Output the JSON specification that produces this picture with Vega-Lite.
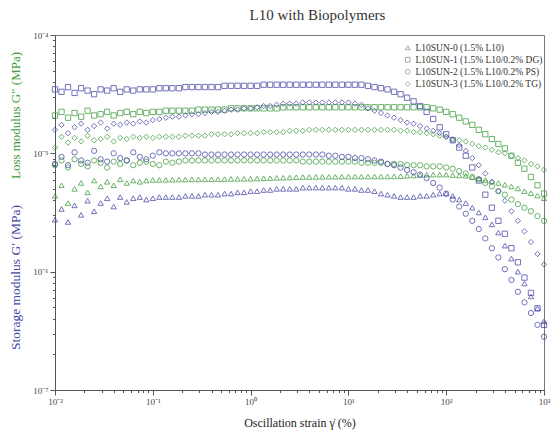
{
"$schema": "https://vega.github.io/schema/vega-lite/v6.json",
"width": 489, "height": 355,
"autosize": {"type": "none"},
"padding": {"left": 55, "top": 35, "right": 11, "bottom": 41},
"background": "white",
"title": {"text": "L10 with Biopolymers", "font": "Liberation Serif", "fontSize": 15, "fontWeight": "normal", "color": "#333333", "frame": "group", "anchor": "middle", "dx": 18, "offset": 8},
"config": {"view": {"stroke": "#777777", "strokeWidth": 1}, "font": "Liberation Serif"},
"data": {"values": [
{"s":"SUN-1","m":"storage","x":0.01,"y":3.47e-5},{"s":"SUN-1","m":"storage","x":0.01166,"y":3.31e-5},{"s":"SUN-1","m":"storage","x":0.01359,"y":3.63e-5},{"s":"SUN-1","m":"storage","x":0.01585,"y":3.24e-5},{"s":"SUN-1","m":"storage","x":0.01848,"y":3.55e-5},{"s":"SUN-1","m":"storage","x":0.02154,"y":3.39e-5},{"s":"SUN-1","m":"storage","x":0.02512,"y":3.16e-5},{"s":"SUN-1","m":"storage","x":0.02929,"y":3.47e-5},{"s":"SUN-1","m":"storage","x":0.03415,"y":3.39e-5},{"s":"SUN-1","m":"storage","x":0.03981,"y":3.55e-5},{"s":"SUN-1","m":"storage","x":0.04642,"y":3.31e-5},{"s":"SUN-1","m":"storage","x":0.05412,"y":3.47e-5},{"s":"SUN-1","m":"storage","x":0.0631,"y":3.39e-5},{"s":"SUN-1","m":"storage","x":0.07356,"y":3.47e-5},{"s":"SUN-1","m":"storage","x":0.08577,"y":3.47e-5},
{"s":"SUN-1","m":"storage","x":0.1,"y":3.47e-5},{"s":"SUN-1","m":"storage","x":0.1166,"y":3.55e-5},{"s":"SUN-1","m":"storage","x":0.1359,"y":3.55e-5},{"s":"SUN-1","m":"storage","x":0.1585,"y":3.55e-5},{"s":"SUN-1","m":"storage","x":0.1848,"y":3.55e-5},{"s":"SUN-1","m":"storage","x":0.2154,"y":3.63e-5},{"s":"SUN-1","m":"storage","x":0.2512,"y":3.63e-5},{"s":"SUN-1","m":"storage","x":0.2929,"y":3.63e-5},{"s":"SUN-1","m":"storage","x":0.3415,"y":3.63e-5},{"s":"SUN-1","m":"storage","x":0.3981,"y":3.63e-5},{"s":"SUN-1","m":"storage","x":0.4642,"y":3.63e-5},{"s":"SUN-1","m":"storage","x":0.5412,"y":3.72e-5},{"s":"SUN-1","m":"storage","x":0.631,"y":3.72e-5},{"s":"SUN-1","m":"storage","x":0.7356,"y":3.72e-5},{"s":"SUN-1","m":"storage","x":0.8577,"y":3.72e-5},
{"s":"SUN-1","m":"storage","x":1,"y":3.72e-5},{"s":"SUN-1","m":"storage","x":1.166,"y":3.72e-5},{"s":"SUN-1","m":"storage","x":1.359,"y":3.8e-5},{"s":"SUN-1","m":"storage","x":1.585,"y":3.8e-5},{"s":"SUN-1","m":"storage","x":1.848,"y":3.8e-5},{"s":"SUN-1","m":"storage","x":2.154,"y":3.8e-5},{"s":"SUN-1","m":"storage","x":2.512,"y":3.8e-5},{"s":"SUN-1","m":"storage","x":2.929,"y":3.8e-5},{"s":"SUN-1","m":"storage","x":3.415,"y":3.8e-5},{"s":"SUN-1","m":"storage","x":3.981,"y":3.8e-5},{"s":"SUN-1","m":"storage","x":4.642,"y":3.8e-5},{"s":"SUN-1","m":"storage","x":5.412,"y":3.8e-5},{"s":"SUN-1","m":"storage","x":6.31,"y":3.8e-5},{"s":"SUN-1","m":"storage","x":7.356,"y":3.8e-5},{"s":"SUN-1","m":"storage","x":8.577,"y":3.8e-5},
{"s":"SUN-1","m":"storage","x":10,"y":3.8e-5},{"s":"SUN-1","m":"storage","x":11.66,"y":3.8e-5},{"s":"SUN-1","m":"storage","x":13.59,"y":3.8e-5},{"s":"SUN-1","m":"storage","x":15.85,"y":3.72e-5},{"s":"SUN-1","m":"storage","x":18.48,"y":3.63e-5},{"s":"SUN-1","m":"storage","x":21.54,"y":3.55e-5},{"s":"SUN-1","m":"storage","x":25.12,"y":3.47e-5},{"s":"SUN-1","m":"storage","x":29.29,"y":3.31e-5},{"s":"SUN-1","m":"storage","x":34.15,"y":3.16e-5},{"s":"SUN-1","m":"storage","x":39.81,"y":2.95e-5},{"s":"SUN-1","m":"storage","x":46.42,"y":2.75e-5},{"s":"SUN-1","m":"storage","x":54.12,"y":2.51e-5},{"s":"SUN-1","m":"storage","x":63.1,"y":2.24e-5},{"s":"SUN-1","m":"storage","x":73.56,"y":1.95e-5},{"s":"SUN-1","m":"storage","x":85.77,"y":1.66e-5},
{"s":"SUN-1","m":"storage","x":100,"y":1.45e-5},{"s":"SUN-1","m":"storage","x":116.6,"y":1.29e-5},{"s":"SUN-1","m":"storage","x":135.9,"y":1.12e-5},{"s":"SUN-1","m":"storage","x":158.5,"y":9.55e-6},{"s":"SUN-1","m":"storage","x":184.8,"y":7.59e-6},{"s":"SUN-1","m":"storage","x":215.4,"y":5.89e-6},{"s":"SUN-1","m":"storage","x":251.2,"y":4.47e-6},{"s":"SUN-1","m":"storage","x":292.9,"y":3.47e-6},{"s":"SUN-1","m":"storage","x":341.5,"y":2.69e-6},{"s":"SUN-1","m":"storage","x":398.1,"y":2.09e-6},{"s":"SUN-1","m":"storage","x":464.2,"y":1.58e-6},{"s":"SUN-1","m":"storage","x":541.2,"y":1.2e-6},{"s":"SUN-1","m":"storage","x":631,"y":8.91e-7},{"s":"SUN-1","m":"storage","x":735.6,"y":6.61e-7},{"s":"SUN-1","m":"storage","x":857.7,"y":4.9e-7},{"s":"SUN-1","m":"storage","x":1000,"y":3.55e-7},

{"s":"SUN-1","m":"loss","x":0.01,"y":2.09e-5},{"s":"SUN-1","m":"loss","x":0.01166,"y":2.24e-5},{"s":"SUN-1","m":"loss","x":0.01359,"y":2e-5},{"s":"SUN-1","m":"loss","x":0.01585,"y":2.19e-5},{"s":"SUN-1","m":"loss","x":0.01848,"y":2.04e-5},{"s":"SUN-1","m":"loss","x":0.02154,"y":2.29e-5},{"s":"SUN-1","m":"loss","x":0.02512,"y":2.09e-5},{"s":"SUN-1","m":"loss","x":0.02929,"y":2.14e-5},{"s":"SUN-1","m":"loss","x":0.03415,"y":2.24e-5},{"s":"SUN-1","m":"loss","x":0.03981,"y":2.09e-5},{"s":"SUN-1","m":"loss","x":0.04642,"y":2.19e-5},{"s":"SUN-1","m":"loss","x":0.05412,"y":2.24e-5},{"s":"SUN-1","m":"loss","x":0.0631,"y":2.14e-5},{"s":"SUN-1","m":"loss","x":0.07356,"y":2.24e-5},{"s":"SUN-1","m":"loss","x":0.08577,"y":2.19e-5},
{"s":"SUN-1","m":"loss","x":0.1,"y":2.24e-5},{"s":"SUN-1","m":"loss","x":0.1166,"y":2.24e-5},{"s":"SUN-1","m":"loss","x":0.1359,"y":2.29e-5},{"s":"SUN-1","m":"loss","x":0.1585,"y":2.29e-5},{"s":"SUN-1","m":"loss","x":0.1848,"y":2.29e-5},{"s":"SUN-1","m":"loss","x":0.2154,"y":2.29e-5},{"s":"SUN-1","m":"loss","x":0.2512,"y":2.29e-5},{"s":"SUN-1","m":"loss","x":0.2929,"y":2.34e-5},{"s":"SUN-1","m":"loss","x":0.3415,"y":2.34e-5},{"s":"SUN-1","m":"loss","x":0.3981,"y":2.34e-5},{"s":"SUN-1","m":"loss","x":0.4642,"y":2.34e-5},{"s":"SUN-1","m":"loss","x":0.5412,"y":2.34e-5},{"s":"SUN-1","m":"loss","x":0.631,"y":2.4e-5},{"s":"SUN-1","m":"loss","x":0.7356,"y":2.4e-5},{"s":"SUN-1","m":"loss","x":0.8577,"y":2.4e-5},
{"s":"SUN-1","m":"loss","x":1,"y":2.4e-5},{"s":"SUN-1","m":"loss","x":1.166,"y":2.4e-5},{"s":"SUN-1","m":"loss","x":1.359,"y":2.4e-5},{"s":"SUN-1","m":"loss","x":1.585,"y":2.4e-5},{"s":"SUN-1","m":"loss","x":1.848,"y":2.4e-5},{"s":"SUN-1","m":"loss","x":2.154,"y":2.45e-5},{"s":"SUN-1","m":"loss","x":2.512,"y":2.45e-5},{"s":"SUN-1","m":"loss","x":2.929,"y":2.45e-5},{"s":"SUN-1","m":"loss","x":3.415,"y":2.45e-5},{"s":"SUN-1","m":"loss","x":3.981,"y":2.45e-5},{"s":"SUN-1","m":"loss","x":4.642,"y":2.45e-5},{"s":"SUN-1","m":"loss","x":5.412,"y":2.45e-5},{"s":"SUN-1","m":"loss","x":6.31,"y":2.45e-5},{"s":"SUN-1","m":"loss","x":7.356,"y":2.45e-5},{"s":"SUN-1","m":"loss","x":8.577,"y":2.45e-5},
{"s":"SUN-1","m":"loss","x":10,"y":2.45e-5},{"s":"SUN-1","m":"loss","x":11.66,"y":2.45e-5},{"s":"SUN-1","m":"loss","x":13.59,"y":2.45e-5},{"s":"SUN-1","m":"loss","x":15.85,"y":2.45e-5},{"s":"SUN-1","m":"loss","x":18.48,"y":2.45e-5},{"s":"SUN-1","m":"loss","x":21.54,"y":2.45e-5},{"s":"SUN-1","m":"loss","x":25.12,"y":2.45e-5},{"s":"SUN-1","m":"loss","x":29.29,"y":2.45e-5},{"s":"SUN-1","m":"loss","x":34.15,"y":2.45e-5},{"s":"SUN-1","m":"loss","x":39.81,"y":2.45e-5},{"s":"SUN-1","m":"loss","x":46.42,"y":2.45e-5},{"s":"SUN-1","m":"loss","x":54.12,"y":2.45e-5},{"s":"SUN-1","m":"loss","x":63.1,"y":2.45e-5},{"s":"SUN-1","m":"loss","x":73.56,"y":2.4e-5},{"s":"SUN-1","m":"loss","x":85.77,"y":2.34e-5},
{"s":"SUN-1","m":"loss","x":100,"y":2.24e-5},{"s":"SUN-1","m":"loss","x":116.6,"y":2.14e-5},{"s":"SUN-1","m":"loss","x":135.9,"y":2e-5},{"s":"SUN-1","m":"loss","x":158.5,"y":1.86e-5},{"s":"SUN-1","m":"loss","x":184.8,"y":1.74e-5},{"s":"SUN-1","m":"loss","x":215.4,"y":1.58e-5},{"s":"SUN-1","m":"loss","x":251.2,"y":1.45e-5},{"s":"SUN-1","m":"loss","x":292.9,"y":1.32e-5},{"s":"SUN-1","m":"loss","x":341.5,"y":1.2e-5},{"s":"SUN-1","m":"loss","x":398.1,"y":1.1e-5},{"s":"SUN-1","m":"loss","x":464.2,"y":9.55e-6},{"s":"SUN-1","m":"loss","x":541.2,"y":8.32e-6},{"s":"SUN-1","m":"loss","x":631,"y":7.41e-6},{"s":"SUN-1","m":"loss","x":735.6,"y":6.31e-6},{"s":"SUN-1","m":"loss","x":857.7,"y":5.37e-6},{"s":"SUN-1","m":"loss","x":1000,"y":4.57e-6},

{"s":"SUN-2","m":"storage","x":0.01,"y":8.13e-6},{"s":"SUN-2","m":"storage","x":0.01166,"y":9.33e-6},{"s":"SUN-2","m":"storage","x":0.01359,"y":7.94e-6},{"s":"SUN-2","m":"storage","x":0.01585,"y":1.02e-5},{"s":"SUN-2","m":"storage","x":0.01848,"y":8.71e-6},{"s":"SUN-2","m":"storage","x":0.02154,"y":8.32e-6},{"s":"SUN-2","m":"storage","x":0.02512,"y":1.05e-5},{"s":"SUN-2","m":"storage","x":0.02929,"y":8.91e-6},{"s":"SUN-2","m":"storage","x":0.03415,"y":8.51e-6},{"s":"SUN-2","m":"storage","x":0.03981,"y":1e-5},{"s":"SUN-2","m":"storage","x":0.04642,"y":9.12e-6},{"s":"SUN-2","m":"storage","x":0.05412,"y":8.71e-6},{"s":"SUN-2","m":"storage","x":0.0631,"y":1.02e-5},{"s":"SUN-2","m":"storage","x":0.07356,"y":9.33e-6},{"s":"SUN-2","m":"storage","x":0.08577,"y":8.91e-6},
{"s":"SUN-2","m":"storage","x":0.1,"y":9.55e-6},{"s":"SUN-2","m":"storage","x":0.1166,"y":1.02e-5},{"s":"SUN-2","m":"storage","x":0.1359,"y":1e-5},{"s":"SUN-2","m":"storage","x":0.1585,"y":1e-5},{"s":"SUN-2","m":"storage","x":0.1848,"y":1e-5},{"s":"SUN-2","m":"storage","x":0.2154,"y":1e-5},{"s":"SUN-2","m":"storage","x":0.2512,"y":1e-5},{"s":"SUN-2","m":"storage","x":0.2929,"y":1e-5},{"s":"SUN-2","m":"storage","x":0.3415,"y":9.77e-6},{"s":"SUN-2","m":"storage","x":0.3981,"y":9.77e-6},{"s":"SUN-2","m":"storage","x":0.4642,"y":9.77e-6},{"s":"SUN-2","m":"storage","x":0.5412,"y":9.77e-6},{"s":"SUN-2","m":"storage","x":0.631,"y":9.77e-6},{"s":"SUN-2","m":"storage","x":0.7356,"y":9.77e-6},{"s":"SUN-2","m":"storage","x":0.8577,"y":9.77e-6},
{"s":"SUN-2","m":"storage","x":1,"y":9.77e-6},{"s":"SUN-2","m":"storage","x":1.166,"y":9.77e-6},{"s":"SUN-2","m":"storage","x":1.359,"y":9.77e-6},{"s":"SUN-2","m":"storage","x":1.585,"y":9.77e-6},{"s":"SUN-2","m":"storage","x":1.848,"y":9.77e-6},{"s":"SUN-2","m":"storage","x":2.154,"y":9.77e-6},{"s":"SUN-2","m":"storage","x":2.512,"y":9.77e-6},{"s":"SUN-2","m":"storage","x":2.929,"y":9.77e-6},{"s":"SUN-2","m":"storage","x":3.415,"y":9.77e-6},{"s":"SUN-2","m":"storage","x":3.981,"y":9.77e-6},{"s":"SUN-2","m":"storage","x":4.642,"y":9.77e-6},{"s":"SUN-2","m":"storage","x":5.412,"y":9.77e-6},{"s":"SUN-2","m":"storage","x":6.31,"y":9.55e-6},{"s":"SUN-2","m":"storage","x":7.356,"y":9.55e-6},{"s":"SUN-2","m":"storage","x":8.577,"y":9.33e-6},
{"s":"SUN-2","m":"storage","x":10,"y":9.33e-6},{"s":"SUN-2","m":"storage","x":11.66,"y":9.12e-6},{"s":"SUN-2","m":"storage","x":13.59,"y":9.12e-6},{"s":"SUN-2","m":"storage","x":15.85,"y":8.91e-6},{"s":"SUN-2","m":"storage","x":18.48,"y":8.71e-6},{"s":"SUN-2","m":"storage","x":21.54,"y":8.51e-6},{"s":"SUN-2","m":"storage","x":25.12,"y":8.13e-6},{"s":"SUN-2","m":"storage","x":29.29,"y":7.94e-6},{"s":"SUN-2","m":"storage","x":34.15,"y":7.59e-6},{"s":"SUN-2","m":"storage","x":39.81,"y":7.24e-6},{"s":"SUN-2","m":"storage","x":46.42,"y":6.92e-6},{"s":"SUN-2","m":"storage","x":54.12,"y":6.61e-6},{"s":"SUN-2","m":"storage","x":63.1,"y":6.17e-6},{"s":"SUN-2","m":"storage","x":73.56,"y":5.62e-6},{"s":"SUN-2","m":"storage","x":85.77,"y":5.13e-6},
{"s":"SUN-2","m":"storage","x":100,"y":4.57e-6},{"s":"SUN-2","m":"storage","x":116.6,"y":4.07e-6},{"s":"SUN-2","m":"storage","x":135.9,"y":3.55e-6},{"s":"SUN-2","m":"storage","x":158.5,"y":3.09e-6},{"s":"SUN-2","m":"storage","x":184.8,"y":2.69e-6},{"s":"SUN-2","m":"storage","x":215.4,"y":2.29e-6},{"s":"SUN-2","m":"storage","x":251.2,"y":1.91e-6},{"s":"SUN-2","m":"storage","x":292.9,"y":1.58e-6},{"s":"SUN-2","m":"storage","x":341.5,"y":1.32e-6},{"s":"SUN-2","m":"storage","x":398.1,"y":1.05e-6},{"s":"SUN-2","m":"storage","x":464.2,"y":8.51e-7},{"s":"SUN-2","m":"storage","x":541.2,"y":6.76e-7},{"s":"SUN-2","m":"storage","x":631,"y":5.5e-7},{"s":"SUN-2","m":"storage","x":735.6,"y":4.47e-7},{"s":"SUN-2","m":"storage","x":857.7,"y":3.55e-7},{"s":"SUN-2","m":"storage","x":1000,"y":2.82e-7},

{"s":"SUN-2","m":"loss","x":0.01,"y":7.94e-6},{"s":"SUN-2","m":"loss","x":0.01166,"y":8.71e-6},{"s":"SUN-2","m":"loss","x":0.01359,"y":7.59e-6},{"s":"SUN-2","m":"loss","x":0.01585,"y":8.91e-6},{"s":"SUN-2","m":"loss","x":0.01848,"y":8.13e-6},{"s":"SUN-2","m":"loss","x":0.02154,"y":7.76e-6},{"s":"SUN-2","m":"loss","x":0.02512,"y":8.71e-6},{"s":"SUN-2","m":"loss","x":0.02929,"y":8.32e-6},{"s":"SUN-2","m":"loss","x":0.03415,"y":7.59e-6},{"s":"SUN-2","m":"loss","x":0.03981,"y":8.51e-6},{"s":"SUN-2","m":"loss","x":0.04642,"y":8.13e-6},{"s":"SUN-2","m":"loss","x":0.05412,"y":8.71e-6},{"s":"SUN-2","m":"loss","x":0.0631,"y":7.94e-6},{"s":"SUN-2","m":"loss","x":0.07356,"y":8.32e-6},{"s":"SUN-2","m":"loss","x":0.08577,"y":8.51e-6},
{"s":"SUN-2","m":"loss","x":0.1,"y":8.13e-6},{"s":"SUN-2","m":"loss","x":0.1166,"y":7.94e-6},{"s":"SUN-2","m":"loss","x":0.1359,"y":8.51e-6},{"s":"SUN-2","m":"loss","x":0.1585,"y":8.32e-6},{"s":"SUN-2","m":"loss","x":0.1848,"y":8.51e-6},{"s":"SUN-2","m":"loss","x":0.2154,"y":8.71e-6},{"s":"SUN-2","m":"loss","x":0.2512,"y":8.71e-6},{"s":"SUN-2","m":"loss","x":0.2929,"y":8.71e-6},{"s":"SUN-2","m":"loss","x":0.3415,"y":8.71e-6},{"s":"SUN-2","m":"loss","x":0.3981,"y":8.71e-6},{"s":"SUN-2","m":"loss","x":0.4642,"y":8.71e-6},{"s":"SUN-2","m":"loss","x":0.5412,"y":8.71e-6},{"s":"SUN-2","m":"loss","x":0.631,"y":8.71e-6},{"s":"SUN-2","m":"loss","x":0.7356,"y":8.71e-6},{"s":"SUN-2","m":"loss","x":0.8577,"y":8.71e-6},
{"s":"SUN-2","m":"loss","x":1,"y":8.71e-6},{"s":"SUN-2","m":"loss","x":1.166,"y":8.71e-6},{"s":"SUN-2","m":"loss","x":1.359,"y":8.71e-6},{"s":"SUN-2","m":"loss","x":1.585,"y":8.71e-6},{"s":"SUN-2","m":"loss","x":1.848,"y":8.71e-6},{"s":"SUN-2","m":"loss","x":2.154,"y":8.71e-6},{"s":"SUN-2","m":"loss","x":2.512,"y":8.71e-6},{"s":"SUN-2","m":"loss","x":2.929,"y":8.71e-6},{"s":"SUN-2","m":"loss","x":3.415,"y":8.51e-6},{"s":"SUN-2","m":"loss","x":3.981,"y":8.51e-6},{"s":"SUN-2","m":"loss","x":4.642,"y":8.51e-6},{"s":"SUN-2","m":"loss","x":5.412,"y":8.51e-6},{"s":"SUN-2","m":"loss","x":6.31,"y":8.51e-6},{"s":"SUN-2","m":"loss","x":7.356,"y":8.51e-6},{"s":"SUN-2","m":"loss","x":8.577,"y":8.51e-6},
{"s":"SUN-2","m":"loss","x":10,"y":8.51e-6},{"s":"SUN-2","m":"loss","x":11.66,"y":8.51e-6},{"s":"SUN-2","m":"loss","x":13.59,"y":8.32e-6},{"s":"SUN-2","m":"loss","x":15.85,"y":8.32e-6},{"s":"SUN-2","m":"loss","x":18.48,"y":8.32e-6},{"s":"SUN-2","m":"loss","x":21.54,"y":8.32e-6},{"s":"SUN-2","m":"loss","x":25.12,"y":8.13e-6},{"s":"SUN-2","m":"loss","x":29.29,"y":8.13e-6},{"s":"SUN-2","m":"loss","x":34.15,"y":8.13e-6},{"s":"SUN-2","m":"loss","x":39.81,"y":7.94e-6},{"s":"SUN-2","m":"loss","x":46.42,"y":7.94e-6},{"s":"SUN-2","m":"loss","x":54.12,"y":7.94e-6},{"s":"SUN-2","m":"loss","x":63.1,"y":7.76e-6},{"s":"SUN-2","m":"loss","x":73.56,"y":7.76e-6},{"s":"SUN-2","m":"loss","x":85.77,"y":7.76e-6},
{"s":"SUN-2","m":"loss","x":100,"y":7.59e-6},{"s":"SUN-2","m":"loss","x":116.6,"y":7.41e-6},{"s":"SUN-2","m":"loss","x":135.9,"y":7.08e-6},{"s":"SUN-2","m":"loss","x":158.5,"y":6.76e-6},{"s":"SUN-2","m":"loss","x":184.8,"y":6.31e-6},{"s":"SUN-2","m":"loss","x":215.4,"y":6.03e-6},{"s":"SUN-2","m":"loss","x":251.2,"y":5.62e-6},{"s":"SUN-2","m":"loss","x":292.9,"y":5.25e-6},{"s":"SUN-2","m":"loss","x":341.5,"y":4.79e-6},{"s":"SUN-2","m":"loss","x":398.1,"y":4.47e-6},{"s":"SUN-2","m":"loss","x":464.2,"y":4.07e-6},{"s":"SUN-2","m":"loss","x":541.2,"y":3.72e-6},{"s":"SUN-2","m":"loss","x":631,"y":3.47e-6},{"s":"SUN-2","m":"loss","x":735.6,"y":3.24e-6},{"s":"SUN-2","m":"loss","x":857.7,"y":2.95e-6},{"s":"SUN-2","m":"loss","x":1000,"y":2.69e-6},

{"s":"SUN-3","m":"storage","x":0.01,"y":1.58e-5},{"s":"SUN-3","m":"storage","x":0.01166,"y":1.74e-5},{"s":"SUN-3","m":"storage","x":0.01359,"y":1.48e-5},{"s":"SUN-3","m":"storage","x":0.01585,"y":1.66e-5},{"s":"SUN-3","m":"storage","x":0.01848,"y":1.78e-5},{"s":"SUN-3","m":"storage","x":0.02154,"y":1.58e-5},{"s":"SUN-3","m":"storage","x":0.02512,"y":1.7e-5},{"s":"SUN-3","m":"storage","x":0.02929,"y":1.82e-5},{"s":"SUN-3","m":"storage","x":0.03415,"y":1.62e-5},{"s":"SUN-3","m":"storage","x":0.03981,"y":1.78e-5},{"s":"SUN-3","m":"storage","x":0.04642,"y":1.74e-5},{"s":"SUN-3","m":"storage","x":0.05412,"y":1.82e-5},{"s":"SUN-3","m":"storage","x":0.0631,"y":1.78e-5},{"s":"SUN-3","m":"storage","x":0.07356,"y":1.86e-5},{"s":"SUN-3","m":"storage","x":0.08577,"y":1.82e-5},
{"s":"SUN-3","m":"storage","x":0.1,"y":1.91e-5},{"s":"SUN-3","m":"storage","x":0.1166,"y":1.95e-5},{"s":"SUN-3","m":"storage","x":0.1359,"y":2e-5},{"s":"SUN-3","m":"storage","x":0.1585,"y":2.04e-5},{"s":"SUN-3","m":"storage","x":0.1848,"y":2.04e-5},{"s":"SUN-3","m":"storage","x":0.2154,"y":2.09e-5},{"s":"SUN-3","m":"storage","x":0.2512,"y":2.14e-5},{"s":"SUN-3","m":"storage","x":0.2929,"y":2.14e-5},{"s":"SUN-3","m":"storage","x":0.3415,"y":2.19e-5},{"s":"SUN-3","m":"storage","x":0.3981,"y":2.24e-5},{"s":"SUN-3","m":"storage","x":0.4642,"y":2.24e-5},{"s":"SUN-3","m":"storage","x":0.5412,"y":2.29e-5},{"s":"SUN-3","m":"storage","x":0.631,"y":2.34e-5},{"s":"SUN-3","m":"storage","x":0.7356,"y":2.34e-5},{"s":"SUN-3","m":"storage","x":0.8577,"y":2.4e-5},
{"s":"SUN-3","m":"storage","x":1,"y":2.4e-5},{"s":"SUN-3","m":"storage","x":1.166,"y":2.45e-5},{"s":"SUN-3","m":"storage","x":1.359,"y":2.51e-5},{"s":"SUN-3","m":"storage","x":1.585,"y":2.51e-5},{"s":"SUN-3","m":"storage","x":1.848,"y":2.57e-5},{"s":"SUN-3","m":"storage","x":2.154,"y":2.63e-5},{"s":"SUN-3","m":"storage","x":2.512,"y":2.63e-5},{"s":"SUN-3","m":"storage","x":2.929,"y":2.63e-5},{"s":"SUN-3","m":"storage","x":3.415,"y":2.69e-5},{"s":"SUN-3","m":"storage","x":3.981,"y":2.69e-5},{"s":"SUN-3","m":"storage","x":4.642,"y":2.69e-5},{"s":"SUN-3","m":"storage","x":5.412,"y":2.69e-5},{"s":"SUN-3","m":"storage","x":6.31,"y":2.69e-5},{"s":"SUN-3","m":"storage","x":7.356,"y":2.69e-5},{"s":"SUN-3","m":"storage","x":8.577,"y":2.69e-5},
{"s":"SUN-3","m":"storage","x":10,"y":2.69e-5},{"s":"SUN-3","m":"storage","x":11.66,"y":2.63e-5},{"s":"SUN-3","m":"storage","x":13.59,"y":2.57e-5},{"s":"SUN-3","m":"storage","x":15.85,"y":2.4e-5},{"s":"SUN-3","m":"storage","x":18.48,"y":2.29e-5},{"s":"SUN-3","m":"storage","x":21.54,"y":2.19e-5},{"s":"SUN-3","m":"storage","x":25.12,"y":2.09e-5},{"s":"SUN-3","m":"storage","x":29.29,"y":2e-5},{"s":"SUN-3","m":"storage","x":34.15,"y":1.91e-5},{"s":"SUN-3","m":"storage","x":39.81,"y":1.82e-5},{"s":"SUN-3","m":"storage","x":46.42,"y":1.78e-5},{"s":"SUN-3","m":"storage","x":54.12,"y":1.7e-5},{"s":"SUN-3","m":"storage","x":63.1,"y":1.62e-5},{"s":"SUN-3","m":"storage","x":73.56,"y":1.55e-5},{"s":"SUN-3","m":"storage","x":85.77,"y":1.48e-5},
{"s":"SUN-3","m":"storage","x":100,"y":1.38e-5},{"s":"SUN-3","m":"storage","x":116.6,"y":1.29e-5},{"s":"SUN-3","m":"storage","x":135.9,"y":1.17e-5},{"s":"SUN-3","m":"storage","x":158.5,"y":1.05e-5},{"s":"SUN-3","m":"storage","x":184.8,"y":9.12e-6},{"s":"SUN-3","m":"storage","x":215.4,"y":7.94e-6},{"s":"SUN-3","m":"storage","x":251.2,"y":6.76e-6},{"s":"SUN-3","m":"storage","x":292.9,"y":5.75e-6},{"s":"SUN-3","m":"storage","x":341.5,"y":4.79e-6},{"s":"SUN-3","m":"storage","x":398.1,"y":3.98e-6},{"s":"SUN-3","m":"storage","x":464.2,"y":3.24e-6},{"s":"SUN-3","m":"storage","x":541.2,"y":2.69e-6},{"s":"SUN-3","m":"storage","x":631,"y":2.19e-6},{"s":"SUN-3","m":"storage","x":735.6,"y":1.78e-6},{"s":"SUN-3","m":"storage","x":857.7,"y":1.41e-6},{"s":"SUN-3","m":"storage","x":1000,"y":1.15e-6},

{"s":"SUN-3","m":"loss","x":0.01,"y":1.12e-5},{"s":"SUN-3","m":"loss","x":0.01166,"y":1.38e-5},{"s":"SUN-3","m":"loss","x":0.01359,"y":1.23e-5},{"s":"SUN-3","m":"loss","x":0.01585,"y":1.35e-5},{"s":"SUN-3","m":"loss","x":0.01848,"y":1.26e-5},{"s":"SUN-3","m":"loss","x":0.02154,"y":1.41e-5},{"s":"SUN-3","m":"loss","x":0.02512,"y":1.29e-5},{"s":"SUN-3","m":"loss","x":0.02929,"y":1.32e-5},{"s":"SUN-3","m":"loss","x":0.03415,"y":1.38e-5},{"s":"SUN-3","m":"loss","x":0.03981,"y":1.26e-5},{"s":"SUN-3","m":"loss","x":0.04642,"y":1.35e-5},{"s":"SUN-3","m":"loss","x":0.05412,"y":1.32e-5},{"s":"SUN-3","m":"loss","x":0.0631,"y":1.38e-5},{"s":"SUN-3","m":"loss","x":0.07356,"y":1.35e-5},{"s":"SUN-3","m":"loss","x":0.08577,"y":1.38e-5},
{"s":"SUN-3","m":"loss","x":0.1,"y":1.35e-5},{"s":"SUN-3","m":"loss","x":0.1166,"y":1.38e-5},{"s":"SUN-3","m":"loss","x":0.1359,"y":1.38e-5},{"s":"SUN-3","m":"loss","x":0.1585,"y":1.38e-5},{"s":"SUN-3","m":"loss","x":0.1848,"y":1.38e-5},{"s":"SUN-3","m":"loss","x":0.2154,"y":1.41e-5},{"s":"SUN-3","m":"loss","x":0.2512,"y":1.41e-5},{"s":"SUN-3","m":"loss","x":0.2929,"y":1.41e-5},{"s":"SUN-3","m":"loss","x":0.3415,"y":1.41e-5},{"s":"SUN-3","m":"loss","x":0.3981,"y":1.45e-5},{"s":"SUN-3","m":"loss","x":0.4642,"y":1.45e-5},{"s":"SUN-3","m":"loss","x":0.5412,"y":1.45e-5},{"s":"SUN-3","m":"loss","x":0.631,"y":1.45e-5},{"s":"SUN-3","m":"loss","x":0.7356,"y":1.48e-5},{"s":"SUN-3","m":"loss","x":0.8577,"y":1.48e-5},
{"s":"SUN-3","m":"loss","x":1,"y":1.48e-5},{"s":"SUN-3","m":"loss","x":1.166,"y":1.48e-5},{"s":"SUN-3","m":"loss","x":1.359,"y":1.51e-5},{"s":"SUN-3","m":"loss","x":1.585,"y":1.51e-5},{"s":"SUN-3","m":"loss","x":1.848,"y":1.51e-5},{"s":"SUN-3","m":"loss","x":2.154,"y":1.51e-5},{"s":"SUN-3","m":"loss","x":2.512,"y":1.55e-5},{"s":"SUN-3","m":"loss","x":2.929,"y":1.55e-5},{"s":"SUN-3","m":"loss","x":3.415,"y":1.55e-5},{"s":"SUN-3","m":"loss","x":3.981,"y":1.58e-5},{"s":"SUN-3","m":"loss","x":4.642,"y":1.58e-5},{"s":"SUN-3","m":"loss","x":5.412,"y":1.58e-5},{"s":"SUN-3","m":"loss","x":6.31,"y":1.58e-5},{"s":"SUN-3","m":"loss","x":7.356,"y":1.58e-5},{"s":"SUN-3","m":"loss","x":8.577,"y":1.58e-5},
{"s":"SUN-3","m":"loss","x":10,"y":1.58e-5},{"s":"SUN-3","m":"loss","x":11.66,"y":1.58e-5},{"s":"SUN-3","m":"loss","x":13.59,"y":1.58e-5},{"s":"SUN-3","m":"loss","x":15.85,"y":1.58e-5},{"s":"SUN-3","m":"loss","x":18.48,"y":1.58e-5},{"s":"SUN-3","m":"loss","x":21.54,"y":1.58e-5},{"s":"SUN-3","m":"loss","x":25.12,"y":1.58e-5},{"s":"SUN-3","m":"loss","x":29.29,"y":1.58e-5},{"s":"SUN-3","m":"loss","x":34.15,"y":1.55e-5},{"s":"SUN-3","m":"loss","x":39.81,"y":1.55e-5},{"s":"SUN-3","m":"loss","x":46.42,"y":1.51e-5},{"s":"SUN-3","m":"loss","x":54.12,"y":1.51e-5},{"s":"SUN-3","m":"loss","x":63.1,"y":1.48e-5},{"s":"SUN-3","m":"loss","x":73.56,"y":1.45e-5},{"s":"SUN-3","m":"loss","x":85.77,"y":1.41e-5},
{"s":"SUN-3","m":"loss","x":100,"y":1.38e-5},{"s":"SUN-3","m":"loss","x":116.6,"y":1.32e-5},{"s":"SUN-3","m":"loss","x":135.9,"y":1.29e-5},{"s":"SUN-3","m":"loss","x":158.5,"y":1.26e-5},{"s":"SUN-3","m":"loss","x":184.8,"y":1.2e-5},{"s":"SUN-3","m":"loss","x":215.4,"y":1.15e-5},{"s":"SUN-3","m":"loss","x":251.2,"y":1.12e-5},{"s":"SUN-3","m":"loss","x":292.9,"y":1.07e-5},{"s":"SUN-3","m":"loss","x":341.5,"y":1.02e-5},{"s":"SUN-3","m":"loss","x":398.1,"y":1e-5},{"s":"SUN-3","m":"loss","x":464.2,"y":9.55e-6},{"s":"SUN-3","m":"loss","x":541.2,"y":9.12e-6},{"s":"SUN-3","m":"loss","x":631,"y":8.71e-6},{"s":"SUN-3","m":"loss","x":735.6,"y":8.13e-6},{"s":"SUN-3","m":"loss","x":857.7,"y":7.76e-6},{"s":"SUN-3","m":"loss","x":1000,"y":7.24e-6},

{"s":"SUN-0","m":"storage","x":0.01,"y":2.75e-6},{"s":"SUN-0","m":"storage","x":0.01166,"y":3.39e-6},{"s":"SUN-0","m":"storage","x":0.01359,"y":2.63e-6},{"s":"SUN-0","m":"storage","x":0.01585,"y":3.63e-6},{"s":"SUN-0","m":"storage","x":0.01848,"y":3.02e-6},{"s":"SUN-0","m":"storage","x":0.02154,"y":3.98e-6},{"s":"SUN-0","m":"storage","x":0.02512,"y":3.24e-6},{"s":"SUN-0","m":"storage","x":0.02929,"y":3.8e-6},{"s":"SUN-0","m":"storage","x":0.03415,"y":4.17e-6},{"s":"SUN-0","m":"storage","x":0.03981,"y":3.55e-6},{"s":"SUN-0","m":"storage","x":0.04642,"y":4.27e-6},{"s":"SUN-0","m":"storage","x":0.05412,"y":3.89e-6},{"s":"SUN-0","m":"storage","x":0.0631,"y":4.17e-6},{"s":"SUN-0","m":"storage","x":0.07356,"y":4.27e-6},{"s":"SUN-0","m":"storage","x":0.08577,"y":4.07e-6},
{"s":"SUN-0","m":"storage","x":0.1,"y":4.17e-6},{"s":"SUN-0","m":"storage","x":0.1166,"y":4.27e-6},{"s":"SUN-0","m":"storage","x":0.1359,"y":4.27e-6},{"s":"SUN-0","m":"storage","x":0.1585,"y":4.27e-6},{"s":"SUN-0","m":"storage","x":0.1848,"y":4.27e-6},{"s":"SUN-0","m":"storage","x":0.2154,"y":4.37e-6},{"s":"SUN-0","m":"storage","x":0.2512,"y":4.37e-6},{"s":"SUN-0","m":"storage","x":0.2929,"y":4.37e-6},{"s":"SUN-0","m":"storage","x":0.3415,"y":4.47e-6},{"s":"SUN-0","m":"storage","x":0.3981,"y":4.47e-6},{"s":"SUN-0","m":"storage","x":0.4642,"y":4.47e-6},{"s":"SUN-0","m":"storage","x":0.5412,"y":4.57e-6},{"s":"SUN-0","m":"storage","x":0.631,"y":4.57e-6},{"s":"SUN-0","m":"storage","x":0.7356,"y":4.68e-6},{"s":"SUN-0","m":"storage","x":0.8577,"y":4.68e-6},
{"s":"SUN-0","m":"storage","x":1,"y":4.79e-6},{"s":"SUN-0","m":"storage","x":1.166,"y":4.79e-6},{"s":"SUN-0","m":"storage","x":1.359,"y":4.9e-6},{"s":"SUN-0","m":"storage","x":1.585,"y":4.9e-6},{"s":"SUN-0","m":"storage","x":1.848,"y":5.01e-6},{"s":"SUN-0","m":"storage","x":2.154,"y":5.01e-6},{"s":"SUN-0","m":"storage","x":2.512,"y":5.01e-6},{"s":"SUN-0","m":"storage","x":2.929,"y":5.01e-6},{"s":"SUN-0","m":"storage","x":3.415,"y":5.13e-6},{"s":"SUN-0","m":"storage","x":3.981,"y":5.13e-6},{"s":"SUN-0","m":"storage","x":4.642,"y":5.13e-6},{"s":"SUN-0","m":"storage","x":5.412,"y":5.13e-6},{"s":"SUN-0","m":"storage","x":6.31,"y":5.13e-6},{"s":"SUN-0","m":"storage","x":7.356,"y":5.13e-6},{"s":"SUN-0","m":"storage","x":8.577,"y":5.13e-6},
{"s":"SUN-0","m":"storage","x":10,"y":5.01e-6},{"s":"SUN-0","m":"storage","x":11.66,"y":5.01e-6},{"s":"SUN-0","m":"storage","x":13.59,"y":4.9e-6},{"s":"SUN-0","m":"storage","x":15.85,"y":4.9e-6},{"s":"SUN-0","m":"storage","x":18.48,"y":4.79e-6},{"s":"SUN-0","m":"storage","x":21.54,"y":4.57e-6},{"s":"SUN-0","m":"storage","x":25.12,"y":4.47e-6},{"s":"SUN-0","m":"storage","x":29.29,"y":4.37e-6},{"s":"SUN-0","m":"storage","x":34.15,"y":4.27e-6},{"s":"SUN-0","m":"storage","x":39.81,"y":4.27e-6},{"s":"SUN-0","m":"storage","x":46.42,"y":4.27e-6},{"s":"SUN-0","m":"storage","x":54.12,"y":4.37e-6},{"s":"SUN-0","m":"storage","x":63.1,"y":4.37e-6},{"s":"SUN-0","m":"storage","x":73.56,"y":4.47e-6},{"s":"SUN-0","m":"storage","x":85.77,"y":4.57e-6},
{"s":"SUN-0","m":"storage","x":100,"y":4.57e-6},{"s":"SUN-0","m":"storage","x":116.6,"y":4.37e-6},{"s":"SUN-0","m":"storage","x":135.9,"y":4.07e-6},{"s":"SUN-0","m":"storage","x":158.5,"y":3.8e-6},{"s":"SUN-0","m":"storage","x":184.8,"y":3.47e-6},{"s":"SUN-0","m":"storage","x":215.4,"y":3.16e-6},{"s":"SUN-0","m":"storage","x":251.2,"y":2.88e-6},{"s":"SUN-0","m":"storage","x":292.9,"y":2.51e-6},{"s":"SUN-0","m":"storage","x":341.5,"y":2.14e-6},{"s":"SUN-0","m":"storage","x":398.1,"y":1.66e-6},{"s":"SUN-0","m":"storage","x":464.2,"y":1.29e-6},{"s":"SUN-0","m":"storage","x":541.2,"y":1e-6},{"s":"SUN-0","m":"storage","x":631,"y":7.94e-7},{"s":"SUN-0","m":"storage","x":735.6,"y":6.17e-7},{"s":"SUN-0","m":"storage","x":857.7,"y":4.9e-7},{"s":"SUN-0","m":"storage","x":1000,"y":3.8e-7},

{"s":"SUN-0","m":"loss","x":0.01,"y":4.37e-6},{"s":"SUN-0","m":"loss","x":0.01166,"y":5.37e-6},{"s":"SUN-0","m":"loss","x":0.01359,"y":3.8e-6},{"s":"SUN-0","m":"loss","x":0.01585,"y":5.01e-6},{"s":"SUN-0","m":"loss","x":0.01848,"y":5.62e-6},{"s":"SUN-0","m":"loss","x":0.02154,"y":4.68e-6},{"s":"SUN-0","m":"loss","x":0.02512,"y":5.89e-6},{"s":"SUN-0","m":"loss","x":0.02929,"y":5.25e-6},{"s":"SUN-0","m":"loss","x":0.03415,"y":5.75e-6},{"s":"SUN-0","m":"loss","x":0.03981,"y":5.37e-6},{"s":"SUN-0","m":"loss","x":0.04642,"y":6.03e-6},{"s":"SUN-0","m":"loss","x":0.05412,"y":5.62e-6},{"s":"SUN-0","m":"loss","x":0.0631,"y":5.89e-6},{"s":"SUN-0","m":"loss","x":0.07356,"y":5.75e-6},{"s":"SUN-0","m":"loss","x":0.08577,"y":5.89e-6},
{"s":"SUN-0","m":"loss","x":0.1,"y":5.96e-6},{"s":"SUN-0","m":"loss","x":0.1166,"y":5.96e-6},{"s":"SUN-0","m":"loss","x":0.1359,"y":5.98e-6},{"s":"SUN-0","m":"loss","x":0.1585,"y":5.98e-6},{"s":"SUN-0","m":"loss","x":0.1848,"y":6e-6},{"s":"SUN-0","m":"loss","x":0.2154,"y":6e-6},{"s":"SUN-0","m":"loss","x":0.2512,"y":6.02e-6},{"s":"SUN-0","m":"loss","x":0.2929,"y":6.02e-6},{"s":"SUN-0","m":"loss","x":0.3415,"y":6.03e-6},{"s":"SUN-0","m":"loss","x":0.3981,"y":6.04e-6},{"s":"SUN-0","m":"loss","x":0.4642,"y":6.05e-6},{"s":"SUN-0","m":"loss","x":0.5412,"y":6.06e-6},{"s":"SUN-0","m":"loss","x":0.631,"y":6.07e-6},{"s":"SUN-0","m":"loss","x":0.7356,"y":6.08e-6},{"s":"SUN-0","m":"loss","x":0.8577,"y":6.09e-6},
{"s":"SUN-0","m":"loss","x":1,"y":6.1e-6},{"s":"SUN-0","m":"loss","x":1.166,"y":6.12e-6},{"s":"SUN-0","m":"loss","x":1.359,"y":6.15e-6},{"s":"SUN-0","m":"loss","x":1.585,"y":6.17e-6},{"s":"SUN-0","m":"loss","x":1.848,"y":6.2e-6},{"s":"SUN-0","m":"loss","x":2.154,"y":6.22e-6},{"s":"SUN-0","m":"loss","x":2.512,"y":6.25e-6},{"s":"SUN-0","m":"loss","x":2.929,"y":6.28e-6},{"s":"SUN-0","m":"loss","x":3.415,"y":6.31e-6},{"s":"SUN-0","m":"loss","x":3.981,"y":6.31e-6},{"s":"SUN-0","m":"loss","x":4.642,"y":6.32e-6},{"s":"SUN-0","m":"loss","x":5.412,"y":6.33e-6},{"s":"SUN-0","m":"loss","x":6.31,"y":6.33e-6},{"s":"SUN-0","m":"loss","x":7.356,"y":6.34e-6},{"s":"SUN-0","m":"loss","x":8.577,"y":6.35e-6},
{"s":"SUN-0","m":"loss","x":10,"y":6.35e-6},{"s":"SUN-0","m":"loss","x":11.66,"y":6.36e-6},{"s":"SUN-0","m":"loss","x":13.59,"y":6.36e-6},{"s":"SUN-0","m":"loss","x":15.85,"y":6.36e-6},{"s":"SUN-0","m":"loss","x":18.48,"y":6.37e-6},{"s":"SUN-0","m":"loss","x":21.54,"y":6.37e-6},{"s":"SUN-0","m":"loss","x":25.12,"y":6.38e-6},{"s":"SUN-0","m":"loss","x":29.29,"y":6.38e-6},{"s":"SUN-0","m":"loss","x":34.15,"y":6.4e-6},{"s":"SUN-0","m":"loss","x":39.81,"y":6.46e-6},{"s":"SUN-0","m":"loss","x":46.42,"y":6.5e-6},{"s":"SUN-0","m":"loss","x":54.12,"y":6.55e-6},{"s":"SUN-0","m":"loss","x":63.1,"y":6.61e-6},{"s":"SUN-0","m":"loss","x":73.56,"y":6.61e-6},{"s":"SUN-0","m":"loss","x":85.77,"y":6.61e-6},
{"s":"SUN-0","m":"loss","x":100,"y":6.61e-6},{"s":"SUN-0","m":"loss","x":116.6,"y":6.55e-6},{"s":"SUN-0","m":"loss","x":135.9,"y":6.5e-6},{"s":"SUN-0","m":"loss","x":158.5,"y":6.46e-6},{"s":"SUN-0","m":"loss","x":184.8,"y":6.3e-6},{"s":"SUN-0","m":"loss","x":215.4,"y":6.15e-6},{"s":"SUN-0","m":"loss","x":251.2,"y":5.96e-6},{"s":"SUN-0","m":"loss","x":292.9,"y":5.8e-6},{"s":"SUN-0","m":"loss","x":341.5,"y":5.62e-6},{"s":"SUN-0","m":"loss","x":398.1,"y":5.43e-6},{"s":"SUN-0","m":"loss","x":464.2,"y":5.25e-6},{"s":"SUN-0","m":"loss","x":541.2,"y":5.05e-6},{"s":"SUN-0","m":"loss","x":631,"y":4.79e-6},{"s":"SUN-0","m":"loss","x":735.6,"y":4.6e-6},{"s":"SUN-0","m":"loss","x":857.7,"y":4.4e-6},{"s":"SUN-0","m":"loss","x":1000,"y":4.17e-6}
]},
"encoding": {
  "x": {"field": "x", "type": "quantitative", "scale": {"type": "log", "domain": [0.01, 1000], "nice": false},
    "axis": {"values": [0.01,0.02,0.03,0.04,0.05,0.06,0.07,0.08,0.09,0.1,0.2,0.3,0.4,0.5,0.6,0.7,0.8,0.9,1,2,3,4,5,6,7,8,9,10,20,30,40,50,60,70,80,90,100,200,300,400,500,600,700,800,900,1000],
      "labelExpr": "abs(log(datum.value)/LN10 - round(log(datum.value)/LN10)) < 0.001 ? '10' + {'-2':'⁻²','-1':'⁻¹','0':'⁰','1':'¹','2':'²','3':'³'}['' + round(log(datum.value)/LN10)] : ''",
      "labelFont": "Liberation Serif", "labelFontSize": 9, "labelColor": "#444444", "labelFlush": false, "labelOverlap": false, "labelPadding": 2,
      "tickSize": {"condition": {"test": "abs(log(datum.value)/LN10 - round(log(datum.value)/LN10)) < 0.001", "value": 5}, "value": 2.5},
      "tickColor": "#555555", "domainColor": "#555555", "grid": false,
      "title": "Oscillation strain γ̇ (%)", "titleFont": "Liberation Serif", "titleFontSize": 12, "titleFontWeight": "normal", "titleColor": "#222222", "titleY": 32, "titleBaseline": "middle"}},
  "shape": {"field": "s", "type": "nominal",
    "scale": {"domain": ["SUN-0","SUN-1","SUN-2","SUN-3"], "range": ["triangle-up","square","circle","diamond"]},
    "legend": {"title": null, "orient": "none", "legendX": 348, "legendY": 8, "padding": 0,
      "labelExpr": "{'SUN-0':'L10SUN-0 (1.5% L10)','SUN-1':'L10SUN-1 (1.5% L10/0.2% DG)','SUN-2':'L10SUN-2 (1.5% L10/0.2% PS)','SUN-3':'L10SUN-3 (1.5% L10/0.2% TG)'}[datum.label]",
      "labelFont": "Liberation Serif", "labelFontSize": 9.5, "labelColor": "#333333", "labelOffset": 3,
      "symbolSize": 22, "symbolStrokeWidth": 1, "symbolStrokeColor": "#999999", "symbolFillColor": "transparent", "rowPadding": 1}}
},
"layer": [
  {"transform": [{"filter": "datum.m == 'loss'"}],
   "mark": {"type": "point", "filled": false, "color": "#3f9c3f", "size": 28, "strokeWidth": 0.9, "opacity": 0.85},
   "encoding": {"y": {"field": "y", "type": "quantitative", "scale": {"type": "log", "domain": [1e-7, 1e-4], "nice": false},
     "axis": {"orient": "right", "labels": false, "ticks": false, "domain": false, "grid": false,
       "title": "Loss modulus G″ (MPa)", "titleFont": "Liberation Serif", "titleFontSize": 13, "titleFontWeight": "normal", "titleColor": "#3d9a3d",
       "titleX": -529, "titleY": 80, "titleAngle": 270, "titleAlign": "center", "titleBaseline": "middle"}}}},
  {"transform": [{"filter": "datum.m == 'storage'"}],
   "mark": {"type": "point", "filled": false, "color": "#4848a8", "size": 28, "strokeWidth": 0.9, "opacity": 0.85},
   "encoding": {"y": {"field": "y", "type": "quantitative", "scale": {"type": "log", "domain": [1e-7, 1e-4], "nice": false},
     "axis": {"orient": "left", "values": [1e-7,2e-7,3e-7,4e-7,5e-7,6e-7,7e-7,8e-7,9e-7,1e-6,2e-6,3e-6,4e-6,5e-6,6e-6,7e-6,8e-6,9e-6,1e-5,2e-5,3e-5,4e-5,5e-5,6e-5,7e-5,8e-5,9e-5,1e-4],
       "labelExpr": "abs(log(datum.value)/LN10 - round(log(datum.value)/LN10)) < 0.001 ? '10' + {'-7':'⁻⁷','-6':'⁻⁶','-5':'⁻⁵','-4':'⁻⁴'}['' + round(log(datum.value)/LN10)] : ''",
       "labelFont": "Liberation Serif", "labelFontSize": 9, "labelColor": "#444444", "labelFlush": false, "labelOverlap": false, "labelPadding": 2,
       "tickSize": {"condition": {"test": "abs(log(datum.value)/LN10 - round(log(datum.value)/LN10)) < 0.001", "value": 5}, "value": 2.5},
       "tickColor": "#555555", "domainColor": "#555555", "grid": false,
       "title": "Storage modulus  G′ (MPa)", "titleFont": "Liberation Serif", "titleFontSize": 13.5, "titleFontWeight": "normal", "titleColor": "#4545a5",
       "titleX": -40, "titleY": 242, "titleAngle": 270, "titleAlign": "center", "titleBaseline": "middle"}}}}
],
"resolve": {"axis": {"y": "independent"}}
}
